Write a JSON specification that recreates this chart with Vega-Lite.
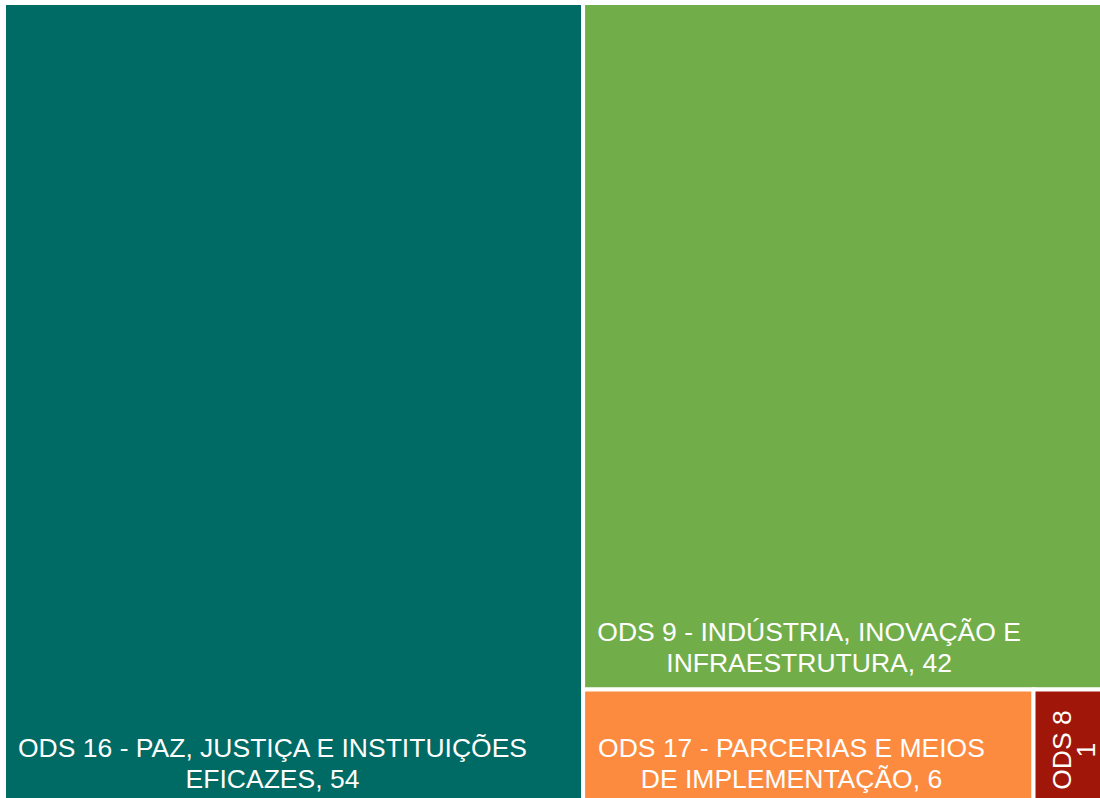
{
  "$schema": "https://vega.github.io/schema/vega-lite/v6.json",
  "width": 1096,
  "height": 795,
  "autosize": {"type": "none"},
  "padding": {"left": 4, "top": 3, "right": 0, "bottom": 0},
  "background": "white",
  "config": {"view": {"stroke": null}},
  "data": {
    "values": [
      {"ods": "ODS 16", "value": 54, "col": "A", "row": "A1", "label": "ODS 16 - PAZ, JUSTIÇA E INSTITUIÇÕES\nEFICAZES, 54"},
      {"ods": "ODS 9", "value": 42, "col": "B", "row": "B1", "label": "ODS 9 - INDÚSTRIA, INOVAÇÃO E\nINFRAESTRUTURA, 42"},
      {"ods": "ODS 17", "value": 6, "col": "B", "row": "B2", "label": "ODS 17 - PARCERIAS E MEIOS\nDE IMPLEMENTAÇÃO, 6"},
      {"ods": "ODS 8", "value": 1, "col": "B", "row": "B2", "label": "ODS 8\n1"}
    ]
  },
  "transform": [
    {"stack": "value", "groupby": [], "sort": [{"field": "value", "order": "descending"}], "as": ["g0", "g1"]},
    {"joinaggregate": [{"op": "min", "field": "g0", "as": "colStart"}, {"op": "sum", "field": "value", "as": "colTotal"}], "groupby": ["col"]},
    {"stack": "value", "groupby": ["col"], "sort": [{"field": "value", "order": "descending"}], "as": ["c0", "c1"]},
    {"joinaggregate": [{"op": "min", "field": "c0", "as": "rowStart"}, {"op": "sum", "field": "value", "as": "rowTotal"}], "groupby": ["row"]},
    {"stack": "value", "groupby": ["row"], "sort": [{"field": "value", "order": "descending"}], "as": ["r0", "r1"]},
    {"calculate": "datum.colStart + datum.colTotal * datum.r0 / datum.rowTotal", "as": "x0"},
    {"calculate": "datum.colStart + datum.colTotal * datum.r1 / datum.rowTotal", "as": "x1"},
    {"calculate": "datum.rowStart / datum.colTotal", "as": "y0"},
    {"calculate": "(datum.rowStart + datum.rowTotal) / datum.colTotal", "as": "y1"}
  ],
  "encoding": {
    "x": {"field": "x0", "type": "quantitative", "scale": {"domain": [0, 102.2], "nice": false, "zero": false}, "axis": null},
    "y": {"field": "y1", "type": "quantitative", "scale": {"domain": [0, 0.9925], "nice": false, "zero": false, "reverse": true}, "axis": null}
  },
  "layer": [
    {
      "mark": {"type": "rect", "stroke": "white", "strokeWidth": 4, "opacity": 1},
      "encoding": {
        "x": {"field": "x0", "type": "quantitative"},
        "x2": {"field": "x1"},
        "y": {"field": "y0", "type": "quantitative"},
        "y2": {"field": "y1"},
        "color": {
          "field": "ods", "type": "nominal", "legend": null,
          "scale": {"domain": ["ODS 16", "ODS 9", "ODS 17", "ODS 8"], "range": ["#006A64", "#71AE4A", "#FD8B3F", "#A0170A"]}
        }
      }
    },
    {
      "transform": [{"filter": "datum.ods == 'ODS 16'"}],
      "mark": {"type": "text", "font": "Liberation Sans", "fontSize": 26.5, "color": "white", "align": "center", "baseline": "alphabetic", "lineBreak": "\n", "lineHeight": 31, "dx": 268.5, "dy": -47},
      "encoding": {"text": {"field": "label"}}
    },
    {
      "transform": [{"filter": "datum.ods == 'ODS 9'"}],
      "mark": {"type": "text", "font": "Liberation Sans", "fontSize": 26.5, "color": "white", "align": "center", "baseline": "alphabetic", "lineBreak": "\n", "lineHeight": 31, "dx": 226, "dy": -48.6},
      "encoding": {"text": {"field": "label"}}
    },
    {
      "transform": [{"filter": "datum.ods == 'ODS 17'"}],
      "mark": {"type": "text", "font": "Liberation Sans", "fontSize": 26.5, "color": "white", "align": "center", "baseline": "alphabetic", "lineBreak": "\n", "lineHeight": 31, "dx": 208.4, "dy": -47},
      "encoding": {"text": {"field": "label"}}
    },
    {
      "transform": [{"filter": "datum.ods == 'ODS 8'"}],
      "mark": {"type": "text", "font": "Liberation Sans", "fontSize": 26.5, "color": "white", "align": "center", "baseline": "alphabetic", "lineBreak": "\n", "lineHeight": 24, "angle": 270, "dx": 54, "dy": 37},
      "encoding": {"text": {"field": "label"}}
    }
  ]
}
